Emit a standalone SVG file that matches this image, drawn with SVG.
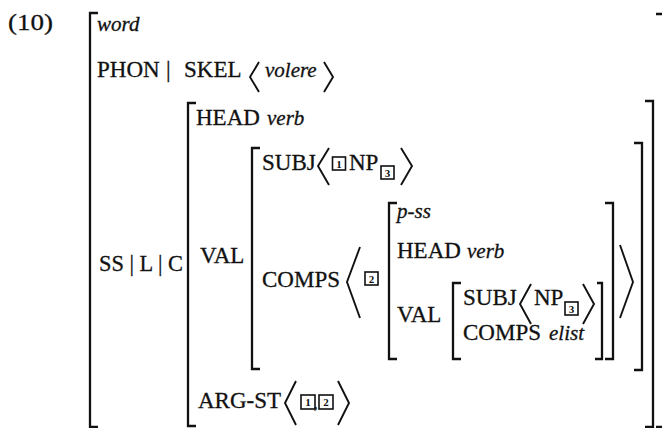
<svg xmlns="http://www.w3.org/2000/svg" width="662" height="428" viewBox="0 0 662 428">
<style>
.t{font-family:"Liberation Serif","Times New Roman",serif;font-size:23px;fill:#111;stroke:#111;stroke-width:0.3}
.i{font-style:italic;font-size:21px}
.n{font-family:"Liberation Serif",serif;font-size:11px;font-weight:bold;fill:#111;text-anchor:middle}
.b{fill:none;stroke:#111;stroke-width:2.3;stroke-linejoin:miter}
.a{fill:none;stroke:#111;stroke-width:1.9;stroke-linejoin:miter}
.x{fill:none;stroke:#111;stroke-width:1.6}
</style>
<rect width="662" height="428" fill="#fff"/>
<text class="t" x="8" y="30" style="font-size:24px" textLength="45" lengthAdjust="spacingAndGlyphs">(10)</text>
<g id="outer">
<path class="b" d="M98,13 H90 V427 H98"/>
<path class="b" d="M656,14 H664 V427 H656"/>
<text class="t i" x="97" y="31">word</text>
<text class="t" x="97" y="77">PHON</text>
<text class="t" x="166" y="77">|</text>
<text class="t" x="184" y="77">SKEL</text>
<path class="a" d="M259,62 L250,77 L259,92"/>
<text class="t i" x="265" y="77">volere</text>
<path class="a" d="M324,62 L333,77 L324,92"/>
<text class="t" x="99" y="271" textLength="84" lengthAdjust="spacingAndGlyphs">SS | L | C</text>
</g>
<g id="ss">
<path class="b" d="M196,103 H188 V426 H196"/>
<path class="b" d="M645,101 H653 V427 H645"/>
<text class="t" x="196" y="125">HEAD</text>
<text class="t i" x="267" y="125">verb</text>
<text class="t" x="200" y="263">VAL</text>
<text class="t" x="198" y="408">ARG-ST</text>
<path class="a" d="M296,381 L285,403 L296,425"/>
<rect class="x" x="301" y="395" width="14" height="14"/>
<text class="n" x="308" y="406">1</text>
<text class="t" x="314" y="409" style="font-size:14px">,</text>
<rect class="x" x="319" y="395" width="14" height="14"/>
<text class="n" x="326" y="406">2</text>
<path class="a" d="M338,381 L349,403 L338,425"/>
</g>
<g id="val">
<path class="b" d="M260,148 H252 V369 H260"/>
<path class="b" d="M634,143 H642 V370 H634"/>
<text class="t" x="262" y="170">SUBJ</text>
<path class="a" d="M329,148 L318,166 L329,185"/>
<rect class="x" x="332.5" y="157" width="13" height="13"/>
<text class="n" x="339" y="167.5">1</text>
<text class="t" x="349" y="170">NP</text>
<rect class="x" x="381" y="166" width="13" height="13"/>
<text class="n" x="387.5" y="176.5">3</text>
<path class="a" d="M401,148 L412,166 L401,185"/>
<text class="t" x="262" y="287">COMPS</text>
<path class="a" d="M360,247 L347,282 L360,318"/>
<rect class="x" x="365" y="272" width="13" height="13"/>
<text class="n" x="371.5" y="282.5">2</text>
<path class="a" d="M620,245 L633,282 L620,318"/>
</g>
<g id="pss">
<path class="b" d="M397,203 H389 V359 H397"/>
<path class="b" d="M605,203 H613 V359 H605"/>
<text class="t i" x="397" y="218">p-ss</text>
<text class="t" x="397" y="258">HEAD</text>
<text class="t i" x="467" y="258">verb</text>
<text class="t" x="397" y="322">VAL</text>
</g>
<g id="innerval">
<path class="b" d="M461,283 H453 V359 H461"/>
<path class="b" d="M597,283 H602 V359 H595"/>
<text class="t" x="463" y="305">SUBJ</text>
<path class="a" d="M531,284 L520,304 L531,324"/>
<text class="t" x="534" y="305">NP</text>
<rect class="x" x="565" y="302" width="13" height="13"/>
<text class="n" x="571.5" y="312.5">3</text>
<path class="a" d="M583,284 L594,304 L583,324"/>
<text class="t" x="463" y="340">COMPS</text>
<text class="t i" x="549" y="340">elist</text>
</g>
</svg>
